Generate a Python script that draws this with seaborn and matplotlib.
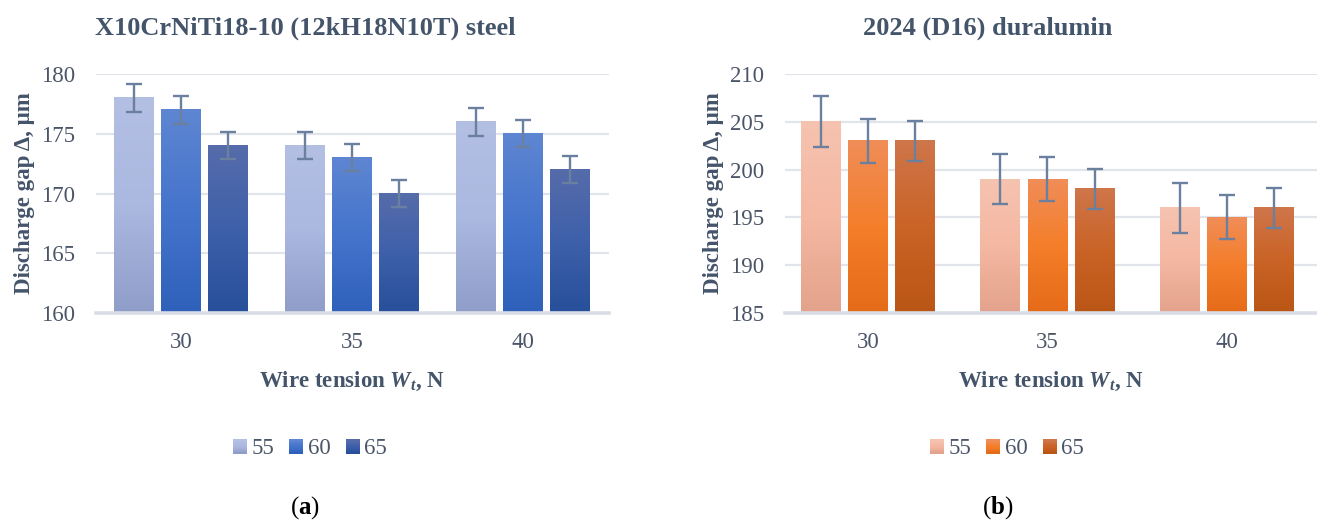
import numpy as np
import pandas as pd
import matplotlib
matplotlib.use("Agg")
import matplotlib.pyplot as plt
from matplotlib.colors import LinearSegmentedColormap
from matplotlib.legend_handler import HandlerBase
from matplotlib.patches import Rectangle
import seaborn as sns

# ---- data -------------------------------------------------------------
tension = ["30", "35", "40"]
levels = ["55", "60", "65"]

steel_55 = [178, 174, 176]
steel_60 = [177, 173, 175]
steel_65 = [174, 170, 172]
steel_err = [1.15, 1.15, 1.15]

dural_55 = [205, 199, 196]
dural_60 = [203, 199, 195]
dural_65 = [203, 198, 196]
dural_err = [2.65, 2.3, 2.1]

steel_title = "X10CrNiTi18-10 (12kH18N10T) steel"
dural_title = "2024 (D16) duralumin"

# ---- style ------------------------------------------------------------
sns.set_theme(style="white")
plt.rcParams["font.family"] = ["Liberation Serif", "DejaVu Serif"]
plt.rcParams["mathtext.fontset"] = "custom"
plt.rcParams["mathtext.rm"] = "Liberation Serif"
plt.rcParams["mathtext.it"] = "Liberation Serif:italic"
plt.rcParams["mathtext.bf"] = "Liberation Serif:bold"
plt.rcParams["mathtext.bfit"] = "Liberation Serif:bold:italic"

TEXT = "#44546A"
TICK = "#4A5568"
GRID = "#E1E4EA"
AXLINE = "#D9DEE6"
ERR = "#6B7F9E"

blue_grad = [
    ["#B3BFE3", "#ABB8E0", "#8F9DC9"],
    ["#5E86D2", "#4574CC", "#2F61BA"],
    ["#566CAA", "#3E60AA", "#274F9A"],
]
orange_grad = [
    ["#F5C3B0", "#F5B8A2", "#E3A28C"],
    ["#F08D58", "#F47E2A", "#E56B18"],
    ["#CF764B", "#CA6326", "#BA5615"],
]


def make_frame(s55, s60, s65):
    rows = []
    for lev, vals in zip(levels, [s55, s60, s65]):
        for t, v in zip(tension, vals):
            rows.append({"tension": t, "level": lev, "gap": v})
    return pd.DataFrame(rows)


class GradientHandler(HandlerBase):
    """Legend key drawn as a small square with a vertical colour ramp."""

    def __init__(self, stops):
        super().__init__()
        self.stops = stops

    def create_artists(self, legend, orig_handle, xdescent, ydescent,
                       width, height, fontsize, trans):
        cmap = LinearSegmentedColormap.from_list("g", self.stops[::-1])
        n = 12
        side = width
        x0 = -xdescent
        y0 = -ydescent + (height - side) / 2
        arts = []
        for i in range(n):
            r = Rectangle((x0, y0 + side * i / n), side, side / n + 0.3,
                          facecolor=cmap(i / (n - 1)), edgecolor="none",
                          transform=trans)
            arts.append(r)
        return arts


def draw_panel(ax, df, grads, errs, ylim, yticks, title, width, gap,
               xlim, title_x, legend_x):
    sns.barplot(data=df, x="tension", y="gap", hue="level",
                order=tension, hue_order=levels, errorbar=None,
                width=width, gap=gap, legend=False, ax=ax)
    ymin = ylim[0]
    bar_groups = list(ax.containers)
    for k, cont in enumerate(bar_groups):
        cmap = LinearSegmentedColormap.from_list("g", grads[k][::-1])
        grad = cmap(np.linspace(0, 1, 256))[:, :3].reshape(256, 1, 3)
        xs, ys = [], []
        for bar in cont:
            x, w, h = bar.get_x(), bar.get_width(), bar.get_height()
            bar.set_visible(False)
            ax.imshow(grad, extent=[x, x + w, ymin, h], origin="lower",
                      aspect="auto", interpolation="bilinear", zorder=2)
            xs.append(x + w / 2)
            ys.append(h)
        ax.errorbar(xs, ys, yerr=errs[k], fmt="none", ecolor=ERR,
                    elinewidth=1.7, capsize=5.5, capthick=1.7, zorder=5)
    ax.set_xlim(*xlim)
    ax.set_ylim(*ylim)
    ax.set_yticks(yticks)
    ax.set_axisbelow(True)
    ax.yaxis.grid(True, color=GRID, lw=1.6)
    ax.xaxis.grid(False)
    for s in ["top", "right", "left"]:
        ax.spines[s].set_visible(False)
    ax.spines["bottom"].set_color(AXLINE)
    ax.spines["bottom"].set_linewidth(2.6)
    ax.tick_params(axis="both", length=0, labelsize=16.5, labelcolor=TICK)
    ax.tick_params(axis="x", pad=14)
    ax.tick_params(axis="y", pad=15)
    ax.set_xlabel(r"Wire tension $\mathbfit{W_t}$, N", fontsize=16.5,
                  fontweight="bold", color=TEXT, labelpad=12)
    ax.set_ylabel("Discharge gap Δ, μm", fontsize=16.5, fontweight="bold",
                  color=TEXT, labelpad=4)
    fig.text(title_x, 1 - 28 / 522, title, ha="center", va="center",
             fontsize=19, fontweight="bold", color=TEXT)
    handles = [Rectangle((0, 0), 1, 1) for _ in levels]
    hmap = {h: GradientHandler(g) for h, g in zip(handles, grads)}
    fig.legend(handles, levels, handler_map=hmap, loc="center",
               bbox_to_anchor=(legend_x, 1 - 449 / 522), ncol=3,
               frameon=False, fontsize=16.5, labelcolor=TICK,
               handlelength=0.62, handleheight=0.62, handletextpad=0.2,
               columnspacing=0.65)


W, H = 1317, 522
fig = plt.figure(figsize=(W / 100, H / 100), dpi=100)

ax1 = fig.add_axes([96 / W, 1 - 313 / H, (609 - 96) / W, (313 - 74) / H])
ax2 = fig.add_axes([785 / W, 1 - 313 / H, (1317 - 785) / W, (313 - 74) / H])

draw_panel(ax1, make_frame(steel_55, steel_60, steel_65), blue_grad,
           steel_err, (160, 180), [160, 165, 170, 175, 180], steel_title,
           width=0.825, gap=0.17, xlim=(-0.497, 2.503),
           title_x=305 / W, legend_x=310 / W)
draw_panel(ax2, make_frame(dural_55, dural_60, dural_65), orange_grad,
           dural_err, (185, 210), [185, 190, 195, 200, 205, 210], dural_title,
           width=0.786, gap=0.15, xlim=(-0.462, 2.501),
           title_x=988 / W, legend_x=1007 / W)

fig.text(305 / W, 1 - 508 / H, r"($\mathbf{a}$)", ha="center", va="center",
         fontsize=18, color="black")
fig.text(998 / W, 1 - 508 / H, r"($\mathbf{b}$)", ha="center", va="center",
         fontsize=18, color="black")

fig.savefig("out.png", dpi=100, facecolor="white")
